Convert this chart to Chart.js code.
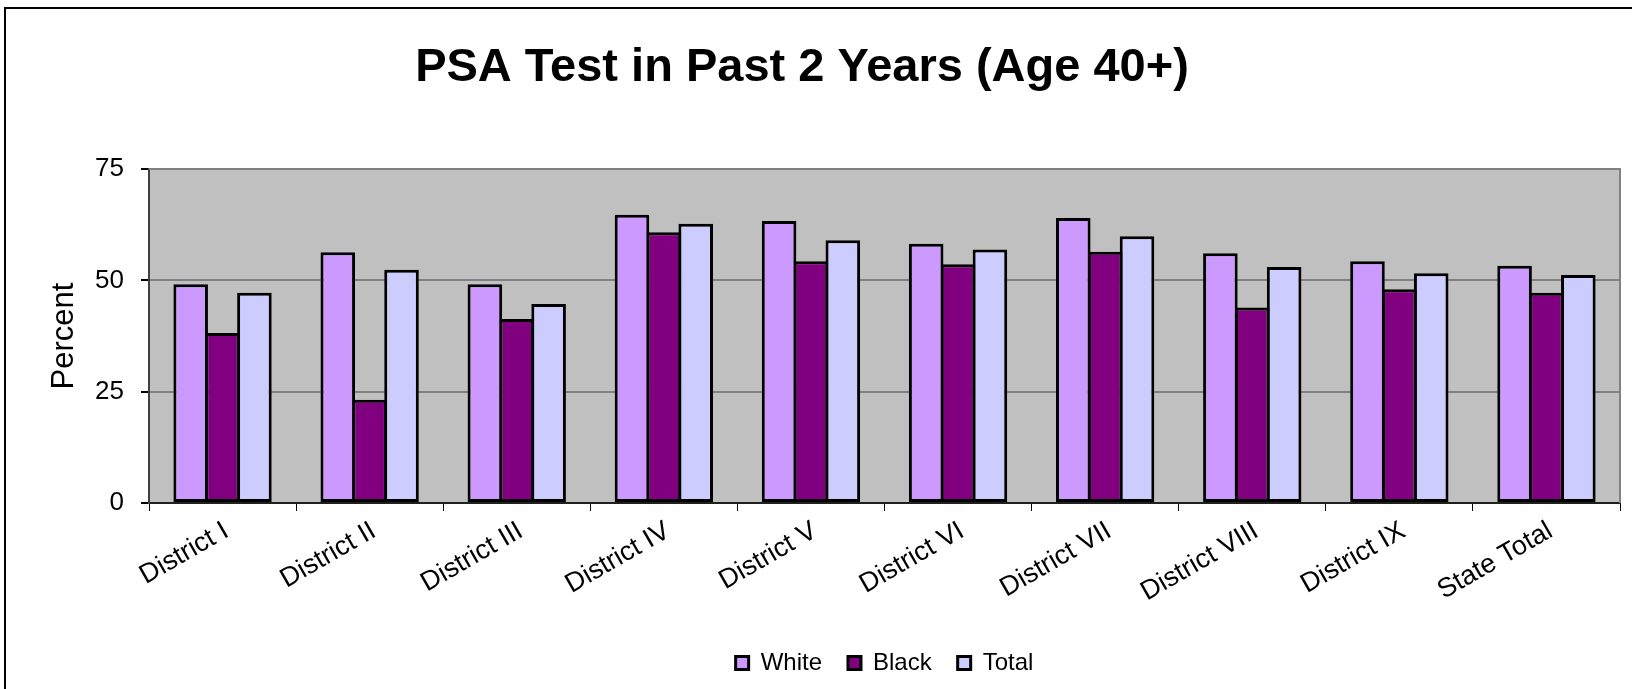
<!DOCTYPE html>
<html>
<head>
<meta charset="utf-8">
<script src="https://cdn.jsdelivr.net/npm/chart.js@4.4.0/dist/chart.umd.min.js"></script>
<style>
html,body{margin:0;padding:0;background:#fff;}
canvas{display:block;}
</style>
</head>
<body>
<canvas id="c" width="1632" height="689"></canvas>
<script>
const TITLE = "PSA Test in Past 2 Years (Age 40+)";
const Y_TITLE = "Percent";
const categories = ["District I","District II","District III","District IV","District V","District VI","District VII","District VIII","District IX","State Total"];
const seriesNames = ["White","Black","Total"];
const white = [49.1, 56.3, 49.1, 64.7, 63.3, 58.2, 64.0, 56.1, 54.3, 53.3];
const black = [38.2, 23.2, 41.3, 60.8, 54.3, 53.6, 56.4, 43.9, 48.0, 47.2];
const total = [47.2, 52.4, 44.7, 62.7, 59.0, 56.9, 59.9, 53.0, 51.6, 51.2];
const yTicks = [0, 25, 50, 75];

const FONT = "'Liberation Sans', Arial, sans-serif";

const decor = {
  id: 'decor',
  beforeDraw(chart) {
    const {ctx, chartArea: a} = chart;
    ctx.save();
    ctx.fillStyle = '#fff';
    ctx.fillRect(0, 0, chart.width, chart.height);
    // outer frame
    ctx.strokeStyle = '#000';
    ctx.lineWidth = 2;
    ctx.beginPath();
    ctx.moveTo(5, chart.height + 2);
    ctx.lineTo(5, 8);
    ctx.lineTo(chart.width + 2, 8);
    ctx.stroke();
    // plot background
    ctx.fillStyle = '#C0C0C0';
    ctx.fillRect(a.left, a.top, a.right - a.left, a.bottom - a.top);
    // title
    ctx.fillStyle = '#000';
    ctx.font = "bold 47px " + FONT;
    ctx.textAlign = 'center';
    ctx.textBaseline = 'alphabetic';
    ctx.fillText(TITLE, 802, 81);
    ctx.restore();
  },
  beforeDatasetsDraw(chart) {
    const {ctx, chartArea: a} = chart;
    ctx.save();
    ctx.strokeStyle = '#808080';
    ctx.lineWidth = 2;
    ctx.beginPath();
    ctx.moveTo(a.left, a.top);
    ctx.lineTo(a.right, a.top);
    ctx.lineTo(a.right, a.bottom);
    ctx.stroke();
    ctx.restore();
  }
};

const colors = ['#CC99FF', '#800080', '#CCCCFF'];
const dataArrays = [white, black, total];

new Chart(document.getElementById('c'), {
  type: 'bar',
  data: {
    labels: categories,
    datasets: seriesNames.map((n, i) => ({
      label: n,
      data: dataArrays[i],
      backgroundColor: colors[i],
      borderColor: '#000',
      borderWidth: 3,
      borderSkipped: false,
      categoryPercentage: 0.65,
      barPercentage: 1.085
    }))
  },
  options: {
    responsive: false,
    animation: false,
    devicePixelRatio: 1,
    layout: { padding: { top: 169, left: 0, right: 12, bottom: 4 } },
    plugins: {
      title: { display: false },
      tooltip: { enabled: false },
      legend: {
        position: 'bottom',
        fullSize: false,
        labels: {
          font: { family: FONT, size: 24 },
          color: '#000',
          boxWidth: 13,
          boxHeight: 13,
          padding: 26
        }
      }
    },
    scales: {
      x: {
        grid: { display: true, drawOnChartArea: false, drawTicks: true, tickLength: 8, color: '#000', offset: true },
        border: { display: true, color: '#202020', width: 2 },
        ticks: {
          color: '#000',
          font: { family: FONT, size: 27 },
          minRotation: 30,
          maxRotation: 30,
          padding: 4,
          labelOffset: 4,
          autoSkip: false
        },
        afterFit(s) { s.height = 122; }
      },
      y: {
        min: 0,
        max: 75,
        afterBuildTicks(s) { s.ticks = yTicks.map(v => ({ value: v })); },
        grid: { color: '#808080', lineWidth: 2, drawTicks: true, tickLength: 8, tickColor: '#000' },
        border: { display: true, color: '#404040', width: 2 },
        ticks: {
          color: '#000',
          font: { family: FONT, size: 26 },
          padding: 17
        },
        title: {
          display: true,
          text: Y_TITLE,
          color: '#000',
          font: { family: FONT, size: 31 },
          padding: { top: 46, bottom: 0 }
        },
        afterFit(s) { s.width = 149; }
      }
    }
  },
  plugins: [decor]
});
</script>
</body>
</html>
